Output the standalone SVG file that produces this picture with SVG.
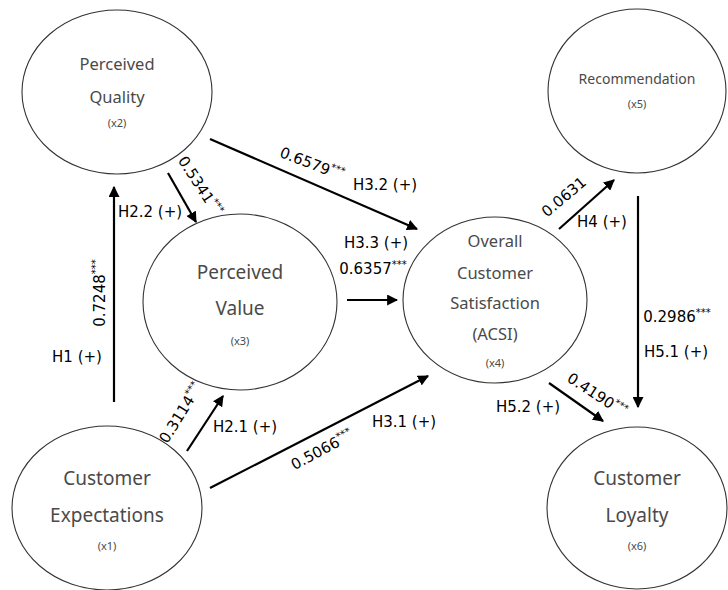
<svg xmlns="http://www.w3.org/2000/svg" width="728" height="590" viewBox="0 0 728 590">
<defs>
<marker id="ah" viewBox="0 0 10 10" refX="9" refY="5" markerWidth="5" markerHeight="5" markerUnits="strokeWidth" orient="auto">
<path d="M0,0 L10,5 L0,10 z" fill="#000"/>
</marker>
<style>
.node ellipse{fill:none;stroke:#333;stroke-width:1.1}
.nt{font-family:"Noto Sans","DejaVu Sans",sans-serif;fill:#4a4a4a;text-anchor:middle;dominant-baseline:central}
.big{font-size:19px}
.mid{font-size:16.5px}
.sm{font-size:14px}
.x{font-size:11px}
.conn line{stroke:#000;stroke-width:2.2;marker-end:url(#ah)}
.lb{font-family:"DejaVu Sans",sans-serif;font-size:15px;fill:#000;text-anchor:middle;dominant-baseline:central}
.st{font-size:10px}
</style>
</defs>
<rect width="728" height="590" fill="#fff"/>

<g id="node-x2" class="node">
<ellipse cx="117" cy="92" rx="95" ry="82"/>
<text class="nt mid" x="117" y="63">Perceived</text>
<text class="nt mid" x="117" y="96">Quality</text>
<text class="nt x" x="117" y="122">(x2)</text>
</g>
<g id="node-x3" class="node">
<ellipse cx="240" cy="302" rx="97" ry="88"/>
<text class="nt big" x="240" y="272">Perceived</text>
<text class="nt big" x="240" y="308">Value</text>
<text class="nt x" x="240" y="340">(x3)</text>
</g>
<g id="node-x4" class="node">
<ellipse cx="495" cy="300" rx="92" ry="83"/>
<text class="nt mid" x="495" y="240">Overall</text>
<text class="nt mid" x="495" y="272">Customer</text>
<text class="nt mid" x="495" y="302">Satisfaction</text>
<text class="nt mid" x="495" y="333">(ACSI)</text>
<text class="nt x" x="495" y="362">(x4)</text>
</g>
<g id="node-x5" class="node">
<ellipse cx="637" cy="91" rx="89" ry="82"/>
<text class="nt sm" x="637" y="78">Recommendation</text>
<text class="nt x" x="637" y="103">(x5)</text>
</g>
<g id="node-x6" class="node">
<ellipse cx="637" cy="508" rx="90" ry="81"/>
<text class="nt big" x="637" y="478">Customer</text>
<text class="nt big" x="637" y="515">Loyalty</text>
<text class="nt x" x="637" y="545">(x6)</text>
</g>
<g id="node-x1" class="node">
<ellipse cx="107" cy="508" rx="95" ry="82"/>
<text class="nt big" x="107" y="478">Customer</text>
<text class="nt big" x="107" y="515">Expectations</text>
<text class="nt x" x="107" y="545">(x1)</text>
</g>

<g id="connectors" class="conn">
<line x1="114" y1="402" x2="114" y2="187"/>
<line x1="168" y1="173" x2="196" y2="222"/>
<line x1="210" y1="139" x2="417" y2="229"/>
<line x1="347" y1="300" x2="397" y2="300"/>
<line x1="187" y1="451" x2="223" y2="396"/>
<line x1="210" y1="488" x2="428" y2="376"/>
<line x1="559" y1="229" x2="614" y2="180"/>
<line x1="638" y1="196" x2="638" y2="407"/>
<line x1="549" y1="383" x2="603" y2="421"/>
</g>

<g id="labels">
<text class="lb" transform="translate(100,293) rotate(-90)">0.7248<tspan class="st" dy="-5">***</tspan></text>
<text class="lb" x="77" y="357">H1 (+)</text>
<text class="lb" x="150" y="212">H2.2 (+)</text>
<text class="lb" transform="translate(200,186) rotate(57)">0.5341<tspan class="st" dy="-5">***</tspan></text>
<text class="lb" transform="translate(312,164) rotate(21)">0.6579<tspan class="st" dy="-5">***</tspan></text>
<text class="lb" x="385" y="185">H3.2 (+)</text>
<text class="lb" x="376" y="243">H3.3 (+)</text>
<text class="lb" x="373" y="269">0.6357<tspan class="st" dy="-5">***</tspan></text>
<text class="lb" transform="translate(181,413) rotate(-58)">0.3114<tspan class="st" dy="-5">***</tspan></text>
<text class="lb" x="245" y="427">H2.1 (+)</text>
<text class="lb" transform="translate(322,450) rotate(-28)">0.5066<tspan class="st" dy="-5">***</tspan></text>
<text class="lb" x="404" y="422">H3.1 (+)</text>
<text class="lb" transform="translate(564,197) rotate(-40)">0.0631</text>
<text class="lb" x="602" y="222">H4 (+)</text>
<text class="lb" x="677" y="317">0.2986<tspan class="st" dy="-5">***</tspan></text>
<text class="lb" x="676" y="352">H5.1 (+)</text>
<text class="lb" transform="translate(597,395) rotate(33)">0.4190<tspan class="st" dy="-5">***</tspan></text>
<text class="lb" x="528" y="407">H5.2 (+)</text>
</g>
</svg>
